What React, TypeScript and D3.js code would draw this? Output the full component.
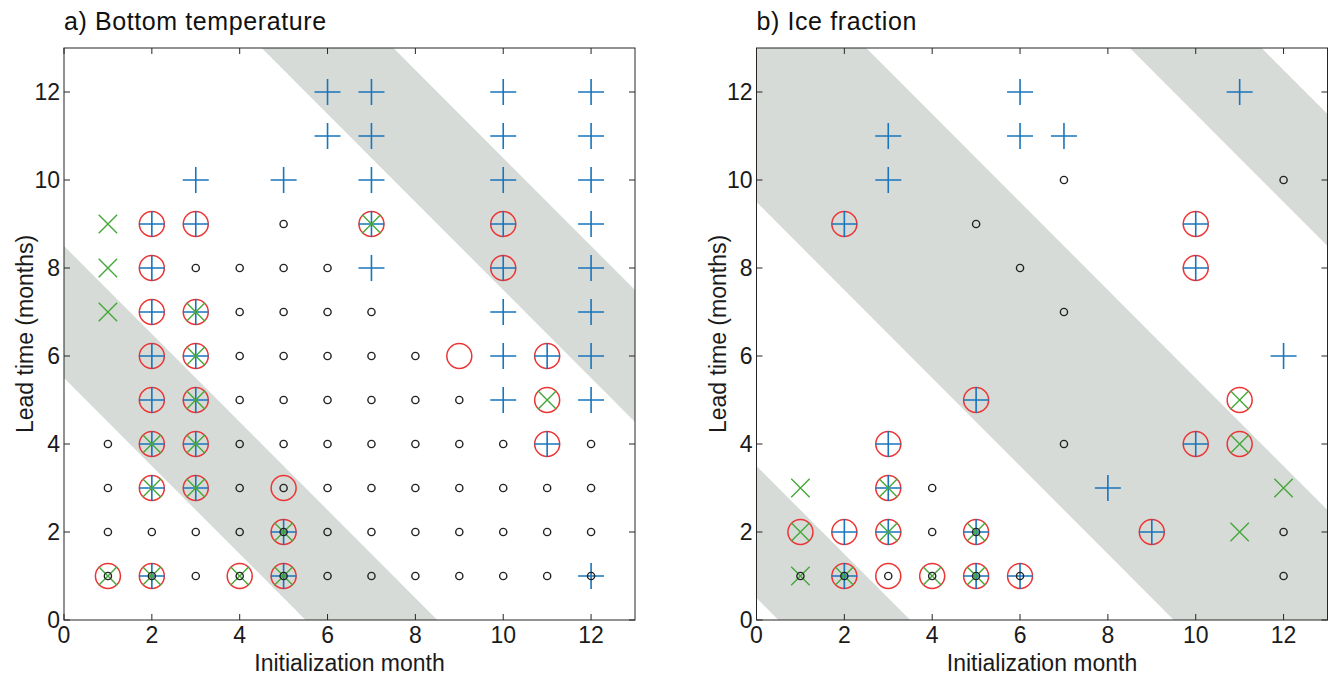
import * as d3 from "d3";

const WIDTH = 1330;
const HEIGHT = 676;
const FONT = "Helvetica, 'Liberation Sans', Arial, sans-serif";

const months = [0, 2, 4, 6, 8, 10, 12];
const leads = [0, 2, 4, 6, 8, 10, 12];

// rows: [lead time, initialization months]
const aPlus: [number, number[]][] = [
  [12, [6, 7, 10, 12]],
  [11, [6, 7, 10, 12]],
  [10, [3, 5, 7, 10, 12]],
  [9, [2, 3, 7, 10, 12]],
  [8, [2, 7, 10, 12]],
  [7, [2, 3, 10, 12]],
  [6, [2, 3, 10, 11, 12]],
  [5, [2, 3, 10, 12]],
  [4, [2, 3, 11]],
  [3, [2, 3]],
  [2, [5]],
  [1, [2, 5, 12]],
];
const aCross: [number, number[]][] = [
  [9, [1, 7]],
  [8, [1]],
  [7, [1, 3]],
  [6, [3]],
  [5, [3, 11]],
  [4, [2, 3]],
  [3, [2, 3]],
  [2, [5]],
  [1, [1, 2, 4, 5]],
];
const aRing: [number, number[]][] = [
  [9, [2, 3, 7, 10]],
  [8, [2, 10]],
  [7, [2, 3]],
  [6, [2, 3, 9, 11]],
  [5, [2, 3, 11]],
  [4, [2, 3, 11]],
  [3, [2, 3, 5]],
  [2, [5]],
  [1, [1, 2, 4, 5]],
];
const aDot: [number, number[]][] = [
  [9, [5]],
  [8, [3, 4, 5, 6]],
  [7, [4, 5, 6, 7]],
  [6, [4, 5, 6, 7, 8]],
  [5, [4, 5, 6, 7, 8, 9]],
  [4, [1, 4, 5, 6, 7, 8, 9, 10, 12]],
  [3, [1, 4, 5, 6, 7, 8, 9, 10, 11, 12]],
  [2, [1, 2, 3, 4, 5, 6, 7, 8, 9, 10, 11, 12]],
  [1, [1, 2, 3, 4, 5, 6, 7, 8, 9, 10, 11, 12]],
];
// shaded bands in init month + lead time
const aBands: [number, number][] = [
  [5.5, 8.5],
  [17.5, 20.5],
];

const bPlus: [number, number[]][] = [
  [12, [6, 11]],
  [11, [3, 6, 7]],
  [10, [3]],
  [9, [2, 10]],
  [8, [10]],
  [6, [12]],
  [5, [5]],
  [4, [3, 10]],
  [3, [3, 8]],
  [2, [2, 3, 5, 9]],
  [1, [2, 5, 6]],
];
const bCross: [number, number[]][] = [
  [5, [11]],
  [4, [11]],
  [3, [1, 3, 12]],
  [2, [1, 3, 5, 11]],
  [1, [1, 2, 4, 5]],
];
const bRing: [number, number[]][] = [
  [9, [2, 10]],
  [8, [10]],
  [5, [5, 11]],
  [4, [3, 10, 11]],
  [3, [3]],
  [2, [1, 2, 3, 5, 9]],
  [1, [2, 3, 4, 5, 6]],
];
const bDot: [number, number[]][] = [
  [10, [7, 12]],
  [9, [5]],
  [8, [6]],
  [7, [7]],
  [4, [7]],
  [3, [4]],
  [2, [4, 5, 12]],
  [1, [1, 2, 3, 4, 5, 6, 12]],
];
const bBands: [number, number][] = [
  [0.5, 3.5],
  [9.5, 15.5],
  [21.5, 24.5],
];

const flat = (rows: [number, number[]][]) =>
  rows.flatMap(([lead, ms]) => ms.map((m) => [m, lead] as [number, number]));

const BLUE = "#1a75bc";
const GREEN = "#45a83a";
const RED = "#ec3434";
const BAND = "#d7dbd7";
const AXIS = "#262626";

type PanelProps = {
  id: string;
  title: string;
  left: number;
  plus: [number, number[]][];
  cross: [number, number[]][];
  ring: [number, number[]][];
  dot: [number, number[]][];
  bands: [number, number][];
};

function Panel({ id, title, left, plus, cross, ring, dot, bands }: PanelProps) {
  const x = d3.scaleLinear().domain([0, 13]).range([left, left + 571]);
  const y = d3.scaleLinear().domain([0, 13]).range([620, 48]);
  const [x0, x1] = x.range();
  const [y0, y1] = y.range();
  const tick = 6;

  return (
    <g>
      <defs>
        <clipPath id={`clip-${id}`}>
          <rect x={x0} y={y1} width={x1 - x0} height={y0 - y1} />
        </clipPath>
      </defs>
      <g clipPath={`url(#clip-${id})`}>
        {bands.map(([lo, hi], i) => {
          const pts = [
            [-2, lo + 2],
            [16, lo - 16],
            [16, hi - 16],
            [-2, hi + 2],
          ]
            .map(([a, b]) => `${x(a)},${y(b)}`)
            .join(" ");
          return <polygon key={i} points={pts} fill={BAND} />;
        })}
      </g>

      {flat(ring).map(([m, l], i) => (
        <circle key={`r${i}`} cx={x(m)} cy={y(l)} r={12.5} fill="none" stroke={RED} strokeWidth={1.5} />
      ))}
      {flat(plus).map(([m, l], i) => (
        <path
          key={`p${i}`}
          d={`M${x(m) - 13},${y(l)}H${x(m) + 13}M${x(m)},${y(l) - 13}V${y(l) + 13}`}
          stroke={BLUE}
          strokeWidth={1.6}
        />
      ))}
      {flat(cross).map(([m, l], i) => (
        <path
          key={`x${i}`}
          d={`M${x(m) - 9.2},${y(l) - 9.2}L${x(m) + 9.2},${y(l) + 9.2}M${x(m) - 9.2},${y(l) + 9.2}L${x(m) + 9.2},${y(l) - 9.2}`}
          stroke={GREEN}
          strokeWidth={1.4}
        />
      ))}
      {flat(dot).map(([m, l], i) => (
        <circle key={`d${i}`} cx={x(m)} cy={y(l)} r={3.6} fill="none" stroke="#222" strokeWidth={1.4} />
      ))}

      <rect x={x0} y={y1} width={x1 - x0} height={y0 - y1} fill="none" stroke={AXIS} strokeWidth={1} />
      {months.map((m) => (
        <g key={`xt${m}`}>
          <line x1={x(m)} x2={x(m)} y1={y0} y2={y0 - tick} stroke={AXIS} />
          <line x1={x(m)} x2={x(m)} y1={y1} y2={y1 + tick} stroke={AXIS} />
          <text x={x(m)} y={643} textAnchor="middle" fontSize={23} fill="#1a1a1a">
            {m}
          </text>
        </g>
      ))}
      {leads.map((l) => (
        <g key={`yt${l}`}>
          <line x1={x0} x2={x0 + tick} y1={y(l)} y2={y(l)} stroke={AXIS} />
          <line x1={x1} x2={x1 - tick} y1={y(l)} y2={y(l)} stroke={AXIS} />
          <text x={x0 - 4} y={y(l) + 8} textAnchor="end" fontSize={23} fill="#1a1a1a">
            {l}
          </text>
        </g>
      ))}
      <text x={(x0 + x1) / 2} y={671} textAnchor="middle" fontSize={23} fill="#1a1a1a">
        Initialization month
      </text>
      <text
        transform={`translate(${x0 - 31},${(y0 + y1) / 2}) rotate(-90)`}
        textAnchor="middle"
        fontSize={23}
        fill="#1a1a1a"
      >
        Lead time (months)
      </text>
      <text x={x0} y={30} fontSize={25} letterSpacing={0.6} fill="#111">
        {title}
      </text>
    </g>
  );
}

export default function App() {
  return (
    <svg
      width={WIDTH}
      height={HEIGHT}
      style={{ position: "absolute", left: 0, top: 0, background: "#fff" }}
      fontFamily={FONT}
    >
      <rect width={WIDTH} height={HEIGHT} fill="#fff" />
      <Panel
        id="a"
        title="a) Bottom temperature"
        left={64}
        plus={aPlus}
        cross={aCross}
        ring={aRing}
        dot={aDot}
        bands={aBands}
      />
      <Panel
        id="b"
        title="b) Ice fraction"
        left={756.5}
        plus={bPlus}
        cross={bCross}
        ring={bRing}
        dot={bDot}
        bands={bBands}
      />
    </svg>
  );
}
